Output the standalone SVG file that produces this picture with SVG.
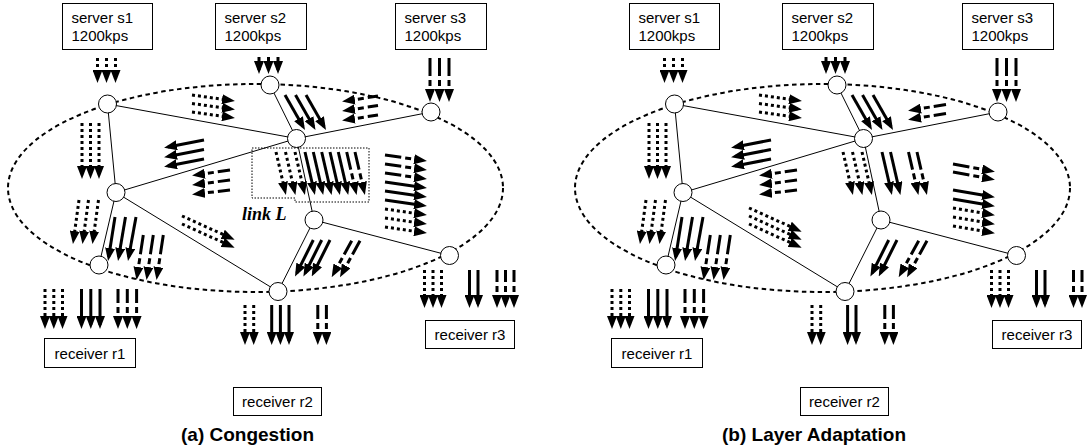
<svg xmlns="http://www.w3.org/2000/svg" width="1088" height="448" viewBox="0 0 1088 448">
  <defs>
    <!-- arrowhead at the end of a line (tail to tip) -->
    <marker id="ah" viewBox="0 0 13 10" refX="9" refY="5" markerWidth="13" markerHeight="10" markerUnits="userSpaceOnUse" orient="auto">
      <path d="M0,0 L13,5 L0,10 Z" fill="#000" stroke="none"/>
    </marker>
    <!-- arrowhead at the start of a line drawn tip to tail (dashed layers) -->
    <marker id="ahr" viewBox="0 0 13 10" refX="9" refY="5" markerWidth="13" markerHeight="10" markerUnits="userSpaceOnUse" orient="auto-start-reverse">
      <path d="M0,0 L13,5 L0,10 Z" fill="#000" stroke="none"/>
    </marker>
  </defs>
  <style>
    .ring { fill:none; stroke:#000; stroke-width:2; stroke-dasharray:4.5 3.5; }
    .edge { stroke:#000; stroke-width:1; fill:none; }
    .node { fill:#fff; stroke:#000; stroke-width:1; }
    .box { fill:#fff; stroke:#000; stroke-width:1; }
    .lbl { font-family:"Liberation Sans", Arial, sans-serif; font-size:15px; fill:#000; }
    .cap { font-family:"Liberation Sans", Arial, sans-serif; font-size:19px; font-weight:bold; fill:#000; text-anchor:middle; }
    .linkl { font-family:"Liberation Serif", "Times New Roman", serif; font-size:18px; font-weight:bold; font-style:italic; fill:#000; }
    .f { fill:none; stroke:#000; stroke-width:3; marker-end:url(#ah); }
    .d { stroke-dasharray:3 3; }
    .k { stroke-dasharray:0 12 6 4 300; marker-end:none; marker-start:url(#ahr); }
    .lbox { fill:none; stroke:#000; stroke-width:1; stroke-dasharray:1.5 1.5; }
  </style>

  <!-- ===== Panel (a): congestion ===== -->
  <g id="panel-a">
    <ellipse class="ring" cx="255.5" cy="188" rx="247.5" ry="104"/>
    <g id="a-connectors">
      <line class="edge" x1="107.5" y1="104" x2="296.5" y2="138.5"/>
      <line class="edge" x1="107.5" y1="104" x2="116" y2="192.5"/>
      <line class="edge" x1="270" y1="85" x2="296.5" y2="138.5"/>
      <line class="edge" x1="431" y1="112" x2="296.5" y2="138.5"/>
      <line class="edge" x1="116" y1="192.5" x2="296.5" y2="138.5"/>
      <line class="edge" x1="116" y1="192.5" x2="99" y2="265"/>
      <line class="edge" x1="116" y1="192.5" x2="278" y2="291.5"/>
      <line class="edge" x1="296.5" y1="138.5" x2="314" y2="220"/>
      <line class="edge" x1="314" y1="220" x2="278" y2="291.5"/>
      <line class="edge" x1="314" y1="220" x2="449.5" y2="255.5"/>
    </g>
    <g id="a-n1"><circle class="node" cx="107.5" cy="104" r="9"/></g>
    <g id="a-n2"><circle class="node" cx="270" cy="85" r="9"/></g>
    <g id="a-n3"><circle class="node" cx="431" cy="112" r="9"/></g>
    <g id="a-n4"><circle class="node" cx="296.5" cy="138.5" r="9"/></g>
    <g id="a-n5"><circle class="node" cx="116" cy="192.5" r="9"/></g>
    <g id="a-n6"><circle class="node" cx="99" cy="265" r="9"/></g>
    <g id="a-n7"><circle class="node" cx="314" cy="220" r="9"/></g>
    <g id="a-n8"><circle class="node" cx="278" cy="291.5" r="9"/></g>
    <g id="a-n9"><circle class="node" cx="449.5" cy="255.5" r="9"/></g>

    <g id="a-s1"><rect class="box" x="62.5" y="3.5" width="90" height="46"/>
      <text class="lbl" x="71.5" y="22.5">server s1</text><text class="lbl" x="71.5" y="40.5">1200kps</text></g>
    <g id="a-s2"><rect class="box" x="215.5" y="3.5" width="91" height="46"/>
      <text class="lbl" x="224.5" y="22.5">server s2</text><text class="lbl" x="224.5" y="40.5">1200kps</text></g>
    <g id="a-s3"><rect class="box" x="395.5" y="3.5" width="91" height="46"/>
      <text class="lbl" x="404.5" y="22.5">server s3</text><text class="lbl" x="404.5" y="40.5">1200kps</text></g>
    <g id="a-r1"><rect class="box" x="44.5" y="338.5" width="91" height="29"/>
      <text class="lbl" x="90" y="358.5" text-anchor="middle">receiver r1</text></g>
    <g id="a-r2"><rect class="box" x="233.5" y="387.5" width="88" height="28"/>
      <text class="lbl" x="277.5" y="407" text-anchor="middle">receiver r2</text></g>
    <g id="a-r3"><rect class="box" x="425.5" y="320.5" width="89" height="28"/>
      <text class="lbl" x="470" y="340" text-anchor="middle">receiver r3</text></g>

    <g id="a-linkL">
      <path class="lbox" d="M252,148 H369 V202 H295 V198 H252 Z"/>
      <text class="linkl" x="242" y="220">link L</text>
    </g>

    <g id="a-flows">
      <!-- sources -->
      <line class="f d" x1="97.5" y1="58" x2="97.5" y2="79"/>
      <line class="f d" x1="106.5" y1="58" x2="106.5" y2="79"/>
      <line class="f d" x1="115.5" y1="58" x2="115.5" y2="79"/>
      <line class="f" x1="259" y1="57" x2="259" y2="70"/>
      <line class="f" x1="268.5" y1="57" x2="268.5" y2="70"/>
      <line class="f" x1="278" y1="57" x2="278" y2="70"/>
      <line class="f k" x1="430" y1="98" x2="430" y2="58"/>
      <line class="f k" x1="439.5" y1="98" x2="439.5" y2="58"/>
      <line class="f k" x1="449" y1="98" x2="449" y2="58"/>
      <!-- n1 to n4 -->
      <line class="f d" x1="192" y1="95" x2="231" y2="100.5"/>
      <line class="f d" x1="192" y1="103.5" x2="231" y2="109"/>
      <line class="f d" x1="192" y1="112" x2="231" y2="117.5"/>
      <!-- n2 to n4 -->
      <line class="f" x1="285" y1="95" x2="303" y2="126.5"/>
      <line class="f" x1="295.5" y1="95" x2="313.5" y2="126.5"/>
      <line class="f" x1="306" y1="95" x2="324" y2="126.5"/>
      <!-- n3 to n4 -->
      <line class="f k" x1="346" y1="101" x2="378" y2="96"/>
      <line class="f k" x1="346" y1="110.5" x2="378" y2="105.5"/>
      <line class="f k" x1="346" y1="120" x2="378" y2="115"/>
      <!-- n1 to n5 -->
      <line class="f d" x1="82" y1="123" x2="82" y2="175"/>
      <line class="f d" x1="90.5" y1="123" x2="90.5" y2="175"/>
      <line class="f d" x1="99" y1="123" x2="99" y2="175"/>
      <!-- n4 to n5 -->
      <line class="f" x1="204" y1="140" x2="168" y2="147"/>
      <line class="f" x1="204" y1="149.5" x2="168" y2="156.5"/>
      <line class="f" x1="204" y1="159" x2="168" y2="166"/>
      <line class="f k" x1="196" y1="175" x2="230" y2="170"/>
      <line class="f k" x1="196" y1="184.5" x2="230" y2="180"/>
      <line class="f k" x1="196" y1="194" x2="230" y2="190"/>
      <!-- n5 to n6 -->
      <line class="f d" x1="79" y1="200" x2="73.5" y2="240"/>
      <line class="f d" x1="88.5" y1="200" x2="83" y2="240"/>
      <line class="f d" x1="98.5" y1="200" x2="93" y2="240"/>
      <line class="f" x1="115" y1="217" x2="108.7" y2="257"/>
      <line class="f" x1="125.5" y1="217" x2="118.7" y2="257"/>
      <line class="f" x1="136" y1="217" x2="128.7" y2="257"/>
      <line class="f k" x1="137.1" y1="276" x2="143.3" y2="235"/>
      <line class="f k" x1="147.1" y1="276" x2="153.3" y2="235"/>
      <line class="f k" x1="157.1" y1="276" x2="163.3" y2="235"/>
      <!-- n5 to n8 -->
      <line class="f d" x1="182" y1="216" x2="231" y2="238"/>
      <line class="f d" x1="182" y1="224" x2="231" y2="246"/>
      <!-- link L: n4 to n7 -->
      <line class="f d" x1="276" y1="152" x2="285" y2="191"/>
      <line class="f d" x1="285.5" y1="152" x2="294.5" y2="191"/>
      <line class="f d" x1="295" y1="152" x2="304" y2="191"/>
      <line class="f" x1="305" y1="152" x2="314" y2="191"/>
      <line class="f" x1="313.3" y1="152" x2="322.3" y2="191"/>
      <line class="f" x1="321.7" y1="152" x2="330.7" y2="191"/>
      <line class="f" x1="330" y1="152" x2="339" y2="191"/>
      <line class="f" x1="338.3" y1="152" x2="347.3" y2="191"/>
      <line class="f k" x1="355.7" y1="191" x2="346.7" y2="152"/>
      <line class="f k" x1="364" y1="191" x2="355" y2="152"/>
      <!-- n7 to n9 -->
      <line class="f k" x1="423" y1="160.5" x2="385" y2="155"/>
      <line class="f k" x1="423" y1="169.5" x2="385" y2="164"/>
      <line class="f k" x1="423" y1="178.5" x2="385" y2="173"/>
      <line class="f" x1="385" y1="182" x2="423" y2="187.5"/>
      <line class="f" x1="385" y1="191" x2="423" y2="196.5"/>
      <line class="f" x1="385" y1="200" x2="423" y2="205.5"/>
      <line class="f d" x1="385" y1="209" x2="423" y2="214.5"/>
      <line class="f d" x1="385" y1="218" x2="423" y2="223.5"/>
      <line class="f d" x1="385" y1="227" x2="423" y2="232.5"/>
      <!-- n7 to n8 -->
      <line class="f" x1="313.3" y1="240" x2="296.8" y2="273"/>
      <line class="f" x1="321.7" y1="240" x2="305.2" y2="273"/>
      <line class="f" x1="330" y1="240" x2="313.5" y2="273"/>
      <line class="f k" x1="333.6" y1="273.8" x2="351.7" y2="240.7"/>
      <line class="f k" x1="341.9" y1="273.8" x2="360" y2="240.7"/>
      <!-- to receivers -->
      <line class="f d" x1="45" y1="289" x2="45" y2="325"/>
      <line class="f d" x1="53.8" y1="289" x2="53.8" y2="325"/>
      <line class="f d" x1="62.5" y1="289" x2="62.5" y2="325"/>
      <line class="f" x1="81.5" y1="289" x2="81.5" y2="325"/>
      <line class="f" x1="90.8" y1="289" x2="90.8" y2="325"/>
      <line class="f" x1="100" y1="289" x2="100" y2="325"/>
      <line class="f k" x1="118" y1="325" x2="118" y2="289"/>
      <line class="f k" x1="127.3" y1="325" x2="127.3" y2="289"/>
      <line class="f k" x1="136.6" y1="325" x2="136.6" y2="289"/>
      <line class="f d" x1="245" y1="305" x2="245" y2="341"/>
      <line class="f d" x1="253.7" y1="305" x2="253.7" y2="341"/>
      <line class="f" x1="271.7" y1="305" x2="271.7" y2="341"/>
      <line class="f" x1="280.4" y1="305" x2="280.4" y2="341"/>
      <line class="f" x1="289" y1="305" x2="289" y2="341"/>
      <line class="f k" x1="317.8" y1="341" x2="317.8" y2="305"/>
      <line class="f k" x1="326.4" y1="341" x2="326.4" y2="305"/>
      <line class="f d" x1="424.5" y1="270" x2="424.5" y2="304"/>
      <line class="f d" x1="433" y1="270" x2="433" y2="304"/>
      <line class="f d" x1="441.5" y1="270" x2="441.5" y2="304"/>
      <line class="f" x1="469.5" y1="270" x2="469.5" y2="304"/>
      <line class="f" x1="478" y1="270" x2="478" y2="304"/>
      <line class="f k" x1="497" y1="304" x2="497" y2="270"/>
      <line class="f k" x1="505.5" y1="304" x2="505.5" y2="270"/>
      <line class="f k" x1="514" y1="304" x2="514" y2="270"/>
    </g>
    <text class="cap" x="247.5" y="441">(a) Congestion</text>
  </g>

  <!-- ===== Panel (b): layer adaptation ===== -->
  <g id="panel-b">
    <g transform="translate(567 0)">
      <ellipse class="ring" cx="255.5" cy="188" rx="247.5" ry="104"/>
      <g id="b-connectors">
        <line class="edge" x1="107.5" y1="104" x2="296.5" y2="138.5"/>
        <line class="edge" x1="107.5" y1="104" x2="116" y2="192.5"/>
        <line class="edge" x1="270" y1="85" x2="296.5" y2="138.5"/>
        <line class="edge" x1="431" y1="112" x2="296.5" y2="138.5"/>
        <line class="edge" x1="116" y1="192.5" x2="296.5" y2="138.5"/>
        <line class="edge" x1="116" y1="192.5" x2="99" y2="265"/>
        <line class="edge" x1="116" y1="192.5" x2="278" y2="291.5"/>
        <line class="edge" x1="296.5" y1="138.5" x2="314" y2="220"/>
        <line class="edge" x1="314" y1="220" x2="278" y2="291.5"/>
        <line class="edge" x1="314" y1="220" x2="449.5" y2="255.5"/>
      </g>
      <g id="b-n1"><circle class="node" cx="107.5" cy="104" r="9"/></g>
      <g id="b-n2"><circle class="node" cx="270" cy="85" r="9"/></g>
      <g id="b-n3"><circle class="node" cx="431" cy="112" r="9"/></g>
      <g id="b-n4"><circle class="node" cx="296.5" cy="138.5" r="9"/></g>
      <g id="b-n5"><circle class="node" cx="116" cy="192.5" r="9"/></g>
      <g id="b-n6"><circle class="node" cx="99" cy="265" r="9"/></g>
      <g id="b-n7"><circle class="node" cx="314" cy="220" r="9"/></g>
      <g id="b-n8"><circle class="node" cx="278" cy="291.5" r="9"/></g>
      <g id="b-n9"><circle class="node" cx="449.5" cy="255.5" r="9"/></g>

      <g id="b-s1"><rect class="box" x="62.5" y="3.5" width="90" height="46"/>
        <text class="lbl" x="71.5" y="22.5">server s1</text><text class="lbl" x="71.5" y="40.5">1200kps</text></g>
      <g id="b-s2"><rect class="box" x="215.5" y="3.5" width="91" height="46"/>
        <text class="lbl" x="224.5" y="22.5">server s2</text><text class="lbl" x="224.5" y="40.5">1200kps</text></g>
      <g id="b-s3"><rect class="box" x="395.5" y="3.5" width="91" height="46"/>
        <text class="lbl" x="404.5" y="22.5">server s3</text><text class="lbl" x="404.5" y="40.5">1200kps</text></g>
      <g id="b-r1"><rect class="box" x="44.5" y="338.5" width="91" height="29"/>
        <text class="lbl" x="90" y="358.5" text-anchor="middle">receiver r1</text></g>
      <g id="b-r2"><rect class="box" x="233.5" y="387.5" width="88" height="28"/>
        <text class="lbl" x="277.5" y="407" text-anchor="middle">receiver r2</text></g>
      <g id="b-r3"><rect class="box" x="425.5" y="320.5" width="89" height="28"/>
        <text class="lbl" x="470" y="340" text-anchor="middle">receiver r3</text></g>
    </g>

    <g id="b-flows">
      <line class="f d" x1="664.5" y1="58" x2="664.5" y2="79"/>
      <line class="f d" x1="673.5" y1="58" x2="673.5" y2="79"/>
      <line class="f d" x1="682.5" y1="58" x2="682.5" y2="79"/>
      <line class="f" x1="826" y1="57" x2="826" y2="70"/>
      <line class="f" x1="835.5" y1="57" x2="835.5" y2="70"/>
      <line class="f" x1="845" y1="57" x2="845" y2="70"/>
      <line class="f k" x1="997" y1="98" x2="997" y2="58"/>
      <line class="f k" x1="1006.5" y1="98" x2="1006.5" y2="58"/>
      <line class="f k" x1="1016" y1="98" x2="1016" y2="58"/>
      <!-- n1 to n4 -->
      <line class="f d" x1="759" y1="95" x2="798" y2="100.5"/>
      <line class="f d" x1="759" y1="103.5" x2="798" y2="109"/>
      <line class="f d" x1="759" y1="112" x2="798" y2="117.5"/>
      <!-- n2 to n4 -->
      <line class="f" x1="852" y1="95" x2="870" y2="126.5"/>
      <line class="f" x1="862.5" y1="95" x2="880.5" y2="126.5"/>
      <line class="f" x1="873" y1="95" x2="891" y2="126.5"/>
      <!-- n3 to n4 -->
      <line class="f k" x1="912" y1="110" x2="946" y2="104.5"/>
      <line class="f k" x1="912" y1="119" x2="946" y2="113.5"/>
      <!-- n1 to n5 -->
      <line class="f d" x1="649" y1="123" x2="649" y2="175"/>
      <line class="f d" x1="657.5" y1="123" x2="657.5" y2="175"/>
      <line class="f d" x1="666" y1="123" x2="666" y2="175"/>
      <!-- n4 to n5 -->
      <line class="f" x1="771" y1="140" x2="735" y2="147"/>
      <line class="f" x1="771" y1="149.5" x2="735" y2="156.5"/>
      <line class="f" x1="771" y1="159" x2="735" y2="166"/>
      <line class="f k" x1="763" y1="175" x2="797" y2="170"/>
      <line class="f k" x1="763" y1="184.5" x2="797" y2="180"/>
      <line class="f k" x1="763" y1="194" x2="797" y2="190"/>
      <!-- n5 to n6 -->
      <line class="f d" x1="646" y1="200" x2="640.5" y2="240"/>
      <line class="f d" x1="655.5" y1="200" x2="650" y2="240"/>
      <line class="f d" x1="665.5" y1="200" x2="660" y2="240"/>
      <line class="f" x1="682" y1="217" x2="675.7" y2="257"/>
      <line class="f" x1="692.5" y1="217" x2="685.7" y2="257"/>
      <line class="f" x1="703" y1="217" x2="695.7" y2="257"/>
      <line class="f k" x1="704.1" y1="276" x2="710.3" y2="235"/>
      <line class="f k" x1="714.1" y1="276" x2="720.3" y2="235"/>
      <line class="f k" x1="724.1" y1="276" x2="730.3" y2="235"/>
      <!-- n5 to n8 -->
      <line class="f d" x1="749" y1="208" x2="798" y2="230"/>
      <line class="f d" x1="749" y1="216" x2="798" y2="238"/>
      <line class="f d" x1="749" y1="224" x2="798" y2="246"/>
      <!-- n4 to n7 -->
      <line class="f d" x1="843" y1="152" x2="852" y2="191"/>
      <line class="f d" x1="852.5" y1="152" x2="861.5" y2="191"/>
      <line class="f d" x1="862" y1="152" x2="871" y2="191"/>
      <line class="f" x1="882" y1="152" x2="891" y2="191"/>
      <line class="f" x1="890.5" y1="152" x2="899.5" y2="191"/>
      <line class="f k" x1="917.5" y1="191" x2="908.5" y2="152"/>
      <line class="f k" x1="926" y1="191" x2="917" y2="152"/>
      <!-- n7 to n9 -->
      <line class="f k" x1="991" y1="171" x2="953" y2="164"/>
      <line class="f k" x1="991" y1="179" x2="953" y2="172"/>
      <line class="f" x1="953" y1="190" x2="991" y2="196.5"/>
      <line class="f" x1="953" y1="199" x2="991" y2="205.5"/>
      <line class="f d" x1="953" y1="208" x2="991" y2="214.5"/>
      <line class="f d" x1="953" y1="217" x2="991" y2="223.5"/>
      <line class="f d" x1="953" y1="226" x2="991" y2="232.5"/>
      <!-- n7 to n8 -->
      <line class="f" x1="888.7" y1="240" x2="872.2" y2="273"/>
      <line class="f" x1="897" y1="240" x2="880.5" y2="273"/>
      <line class="f k" x1="900.6" y1="273.8" x2="918.7" y2="240.7"/>
      <line class="f k" x1="908.9" y1="273.8" x2="927" y2="240.7"/>
      <!-- to receivers -->
      <line class="f d" x1="612" y1="289" x2="612" y2="325"/>
      <line class="f d" x1="620.8" y1="289" x2="620.8" y2="325"/>
      <line class="f d" x1="629.5" y1="289" x2="629.5" y2="325"/>
      <line class="f" x1="648.5" y1="289" x2="648.5" y2="325"/>
      <line class="f" x1="657.8" y1="289" x2="657.8" y2="325"/>
      <line class="f" x1="667" y1="289" x2="667" y2="325"/>
      <line class="f k" x1="685" y1="325" x2="685" y2="289"/>
      <line class="f k" x1="694.3" y1="325" x2="694.3" y2="289"/>
      <line class="f k" x1="703.6" y1="325" x2="703.6" y2="289"/>
      <line class="f d" x1="812" y1="305" x2="812" y2="341"/>
      <line class="f d" x1="820.7" y1="305" x2="820.7" y2="341"/>
      <line class="f" x1="847.6" y1="305" x2="847.6" y2="341"/>
      <line class="f" x1="856" y1="305" x2="856" y2="341"/>
      <line class="f k" x1="884.8" y1="341" x2="884.8" y2="305"/>
      <line class="f k" x1="893.4" y1="341" x2="893.4" y2="305"/>
      <line class="f d" x1="991.5" y1="270" x2="991.5" y2="304"/>
      <line class="f d" x1="1000" y1="270" x2="1000" y2="304"/>
      <line class="f d" x1="1008.5" y1="270" x2="1008.5" y2="304"/>
      <line class="f" x1="1036.5" y1="270" x2="1036.5" y2="304"/>
      <line class="f" x1="1045" y1="270" x2="1045" y2="304"/>
      <line class="f k" x1="1073.5" y1="304" x2="1073.5" y2="270"/>
      <line class="f k" x1="1082" y1="304" x2="1082" y2="270"/>
    </g>
    <text class="cap" x="814" y="441">(b) Layer Adaptation</text>
  </g>
</svg>
